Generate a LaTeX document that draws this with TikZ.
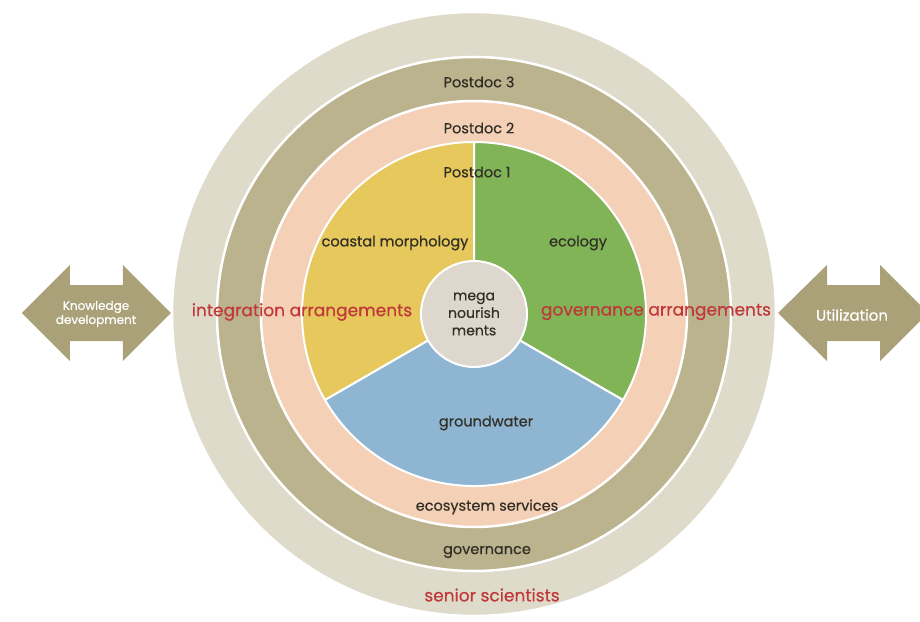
\documentclass[tikz,border=0pt]{standalone}
\usepackage{fontspec}
\setmainfont{Poppins}[FakeBold=0.5]
\usetikzlibrary{positioning}
\definecolor{outerring}{RGB}{223,219,202}
\definecolor{khakiring}{RGB}{187,179,142}
\definecolor{peachring}{RGB}{243,208,182}
\definecolor{yellowpie}{RGB}{230,200,92}
\definecolor{greenpie}{RGB}{128,180,86}
\definecolor{bluepie}{RGB}{142,182,211}
\definecolor{hubfill}{RGB}{221,215,205}
\definecolor{arrowkh}{RGB}{170,161,120}
\definecolor{txtdark}{RGB}{50,48,38}
\definecolor{redtxt}{RGB}{192,56,58}
\tikzset{
  ring/.style={fill=#1, draw=white, line width=2.5pt},
  sector/.style={fill=#1, draw=white, line width=2pt},
  ringlbl/.style={font=\fontsize{14.5}{16}\selectfont, text=txtdark, inner sep=1pt},
  redlbl/.style={font=\fontsize{17}{19}\selectfont, text=redtxt, inner sep=1pt},
  arrowlbl/.style={font=\fontsize{#1}{#1}\selectfont, text=white, align=center, inner sep=1pt},
  bigarrow/.style={fill=arrowkh},
}
\begin{document}
\begin{tikzpicture}[x=1pt,y=1pt]
  \useasboundingbox (-474,-307) rectangle (446,314);
  \fill[white] (-474,-307) rectangle (446,314);
  \coordinate (c) at (0,0);
  \path[ring=outerring] (c) circle[radius=302pt];
  \path[ring=khakiring] (c) circle[radius=257pt];
  \path[ring=peachring] (c) circle[radius=213pt];
  \path[sector=yellowpie] (c) -- (90:172pt) arc[start angle=90, end angle=210, radius=172pt] -- cycle;
  \path[sector=greenpie] (c) -- (-30:172pt) arc[start angle=-30, end angle=90, radius=172pt] -- cycle;
  \path[sector=bluepie] (c) -- (210:172pt) arc[start angle=210, end angle=330, radius=172pt] -- cycle;
  \node[circle, fill=hubfill, draw=white, line width=2pt, minimum size=106pt, align=center,
        font=\fontsize{14}{17.5}\selectfont, text=txtdark] (hub) at (c) {mega\\nourish\\ments};

  \fill[bigarrow] (-452,1) -- (-404,49) -- (-404,29) -- (-351,29) -- (-351,49) -- (-303,1)
        -- (-351,-47) -- (-351,-27) -- (-404,-27) -- (-404,-47) -- cycle;
  \fill[bigarrow] (304,1) -- (353,49) -- (353,29) -- (406,29) -- (406,49) -- (454,1)
        -- (406,-47) -- (406,-27) -- (353,-27) -- (353,-47) -- cycle;
  \node[arrowlbl=12] (know) at (-378,0) {Knowledge\\[1pt]development};
  \node[arrowlbl=15] (util) at (378,-1) {Utilization};

  \node[ringlbl] (pd3) at (5,232) {Postdoc 3};
  \node[ringlbl] (pd2) at (5,186) {Postdoc 2};
  \node[ringlbl] (pd1) at (3,142) {Postdoc 1};
  \node[ringlbl] (coastal) at (-79,71) {coastal morphology};
  \node[ringlbl] (ecol) at (104,71) {ecology};
  \node[ringlbl] (ground) at (12,-109) {groundwater};
  \node[ringlbl] (ecoserv) at (13,-193) {ecosystem services};
  \node[ringlbl] (gov) at (13,-238) {governance};
  \node[redlbl] (integr) at (-172,2) {integration arrangements};
  \node[redlbl] (govarr) at (182,2) {governance arrangements};
  \node[redlbl] (senior) at (18,-281) {senior scientists};
\end{tikzpicture}
\end{document}
